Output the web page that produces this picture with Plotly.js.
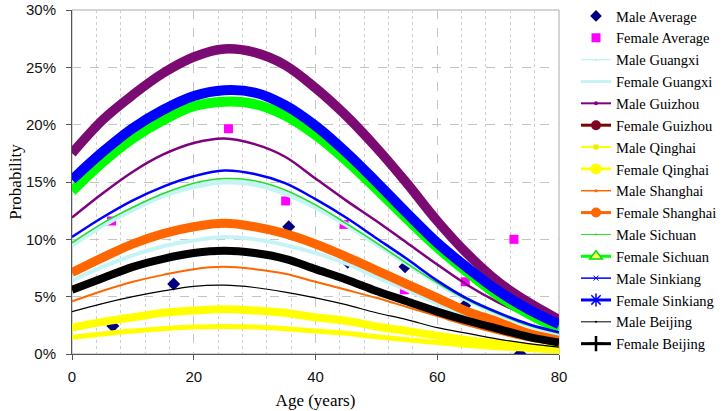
<!DOCTYPE html>
<html>
<head>
<meta charset="utf-8">
<script src="https://cdn.plot.ly/plotly-3.0.1.min.js"></script>
<style>html,body{margin:0;padding:0;background:#fff;}#chart{width:725px;height:411px;}</style>
</head>
<body>
<div id="chart"></div>
<script>
// Ages at which the fitted curves are read (years)
const ages = [0,5,10,15,20,25,30,35,40,45,50,55,60,65,70,75,80];

// Observed averages (age, probability %)
const maleAvgAge = [6.7, 16.7, 35.6, 45.3, 54.7, 64.5, 73.6];
const maleAvgVal = [2.45, 6.1, 11.1, 8.0, 7.6, 4.2, 0.0];
const femaleAvgAge = [6.5, 25.7, 35.1, 44.7, 54.6, 64.6, 72.6];
const femaleAvgVal = [11.6, 19.65, 13.35, 11.3, 5.6, 6.3, 10.0];

// Fitted curves (probability %)
const maleGuangxi   = [6.4, 7.6, 8.6, 9.4, 9.9, 10.2, 10.0, 9.5, 8.8, 7.9, 6.7, 5.6, 4.4, 3.3, 2.4, 1.7, 1.1];
const femaleGuangxi = [9.5, 11.2, 12.6, 13.8, 14.6, 15.0, 14.8, 14.0, 12.8, 11.3, 9.6, 7.9, 6.2, 4.7, 3.5, 2.5, 1.7];
const maleGuizhou   = [11.9, 14.0, 15.9, 17.4, 18.4, 18.8, 18.3, 17.2, 15.3, 13.4, 11.6, 9.7, 7.8, 6.0, 4.5, 3.3, 2.3];
const femaleGuizhou = [17.5, 20.4, 22.6, 24.5, 25.9, 26.6, 26.3, 25.2, 23.2, 20.8, 18.0, 14.9, 11.6, 8.7, 6.3, 4.5, 3.0];
const maleQinghai   = [1.45, 1.75, 2.0, 2.2, 2.35, 2.4, 2.35, 2.2, 2.0, 1.8, 1.5, 1.25, 1.0, 0.75, 0.55, 0.4, 0.25];
const femaleQinghai = [2.3, 2.8, 3.2, 3.6, 3.8, 3.9, 3.8, 3.6, 3.2, 2.9, 2.4, 2.0, 1.6, 1.2, 0.9, 0.6, 0.4];
const maleShanghai  = [4.6, 5.5, 6.3, 6.9, 7.4, 7.6, 7.4, 7.0, 6.3, 5.6, 4.9, 4.1, 3.3, 2.5, 1.8, 1.2, 0.8];
const femaleShanghai= [7.1, 8.4, 9.6, 10.5, 11.1, 11.4, 11.1, 10.5, 9.6, 8.5, 7.3, 6.1, 4.9, 3.7, 2.8, 1.8, 1.2];
const maleSichuan   = [9.7, 11.4, 12.8, 14.0, 14.9, 15.3, 15.1, 14.3, 13.0, 11.4, 9.7, 7.9, 6.2, 4.7, 3.5, 2.5, 1.8];
const femaleSichuan = [14.2, 16.7, 18.8, 20.4, 21.6, 22.0, 21.8, 20.8, 19.1, 16.9, 14.4, 11.8, 9.3, 7.1, 5.1, 3.5, 2.2];
const maleSinkiang  = [10.2, 11.9, 13.4, 14.6, 15.5, 16.0, 15.7, 14.9, 13.5, 11.9, 10.1, 8.3, 6.4, 4.8, 3.6, 2.6, 1.9];
const femaleSinkiang= [15.2, 17.6, 19.7, 21.3, 22.5, 23.0, 22.8, 21.7, 19.9, 17.6, 15.0, 12.3, 9.7, 7.5, 5.5, 3.9, 2.6];
const maleBeijing   = [3.7, 4.4, 5.0, 5.5, 5.9, 6.0, 5.8, 5.4, 4.9, 4.3, 3.6, 3.0, 2.3, 1.8, 1.3, 0.9, 0.6];
const femaleBeijing = [5.6, 6.6, 7.6, 8.3, 8.8, 9.0, 8.8, 8.3, 7.4, 6.5, 5.5, 4.6, 3.7, 2.9, 2.2, 1.5, 1.0];

const seriesNames = ["Male Guangxi","Female Guangxi","Male Guizhou","Female Guizhou","Male Qinghai","Female Qinghai",
  "Male Shanghai","Female Shanghai","Male Sichuan","Female Sichuan","Male Sinkiang","Female Sinkiang","Male Beijing","Female Beijing"];
const seriesValues = [maleGuangxi,femaleGuangxi,maleGuizhou,femaleGuizhou,maleQinghai,femaleQinghai,
  maleShanghai,femaleShanghai,maleSichuan,femaleSichuan,maleSinkiang,femaleSinkiang,maleBeijing,femaleBeijing];

// styles for the curves in the plot
const curveStyle = [
  {color:'#c6f4f6', width:4},
  {color:'#c6f4f6', width:5},
  {color:'#800080', width:2.5},
  {color:'#7b0a72', width:9.5},
  {color:'#ffff00', width:5},
  {color:'#ffff00', width:8},
  {color:'#ff6600', width:2},
  {color:'#ff6600', width:9},
  {color:'#22dd22', width:1.5},
  {color:'#00ff00', width:10},
  {color:'#0000ff', width:2.5},
  {color:'#0000ff', width:10},
  {color:'#000000', width:1.2},
  {color:'#000000', width:8}
];
// styles for the legend samples
const legendStyle = [
  {line:{color:'#c6f4f6', width:1.5}, marker:{size:3, color:'#c6f4f6'}},
  {line:{color:'#c6f4f6', width:3}, marker:{size:3, color:'#c6f4f6'}},
  {line:{color:'#800080', width:2}, marker:{size:4, color:'#800080', symbol:'circle'}},
  {line:{color:'#800000', width:3}, marker:{size:10, color:'#800020', symbol:'circle'}},
  {line:{color:'#ffff00', width:2}, marker:{size:5, color:'#eeee00', symbol:'square'}},
  {line:{color:'#ffff00', width:3}, marker:{size:11, color:'#ffff00', symbol:'circle'}},
  {line:{color:'#ff6600', width:1.5}, marker:{size:3, color:'#ff6600'}},
  {line:{color:'#ff6600', width:3}, marker:{size:10, color:'#ff6600', symbol:'circle'}},
  {line:{color:'#22dd22', width:1}, marker:{size:2, color:'#22dd22'}},
  {line:{color:'#00ff00', width:3}, marker:{size:11, color:'#ffff66', symbol:'triangle-up', line:{color:'#00dd00', width:1.5}}},
  {line:{color:'#0000ff', width:1.5}, marker:{size:5, color:'#0000ff', symbol:'x-thin-open', line:{color:'#0000ff', width:1}}},
  {line:{color:'#0000ff', width:3}, marker:{size:11, color:'#0000ff', symbol:'asterisk-open', line:{color:'#0000ff', width:1.5}}},
  {line:{color:'#000000', width:1}, marker:{size:2, color:'#000000'}},
  {line:{color:'#000000', width:3}, marker:{size:11, color:'#000000', symbol:'cross-thin-open', line:{color:'#000000', width:2.5}}}
];

const traces = [];
traces.push({x: maleAvgAge, y: maleAvgVal, mode:'markers', name:'Male Average', showlegend:false,
  marker:{symbol:'diamond', size:10, color:'#000080'}});
traces.push({x: femaleAvgAge, y: femaleAvgVal, mode:'markers', name:'Female Average', showlegend:false,
  marker:{symbol:'square', size:9, color:'#ff00ff'}});
seriesNames.forEach((n,i)=>{
  traces.push({x: ages, y: seriesValues[i], mode:'lines', name:n, showlegend:false,
    line:{color:curveStyle[i].color, width:curveStyle[i].width, shape:'spline', smoothing:1}});
});
// legend-only entries
traces.push({x:[null], y:[null], mode:'markers', name:'Male Average', marker:{symbol:'diamond', size:9, color:'#000080'}});
traces.push({x:[null], y:[null], mode:'markers', name:'Female Average', marker:{symbol:'square', size:9, color:'#ff00ff'}});
seriesNames.forEach((n,i)=>{
  traces.push({x:[null], y:[null], mode:'lines+markers', name:n, line:legendStyle[i].line, marker:legendStyle[i].marker});
});

const layout = {
  width:725, height:411,
  margin:{l:72, r:166, t:10, b:57},
  paper_bgcolor:'#fff', plot_bgcolor:'#fff',
  showlegend:true,
  legend:{x:576/725, xref:'container', xanchor:'left', y:1, yref:'container', yanchor:'top',
    maxheight:1,
    font:{family:'Liberation Serif, Times New Roman, serif', size:14.5, color:'#000'},
    bgcolor:'rgba(0,0,0,0)', borderwidth:0, tracegroupgap:0},
  xaxis:{range:[0,80], dtick:20, tick0:0, showline:true, linecolor:'#555', linewidth:1,
    ticks:'outside', ticklen:5, tickcolor:'#555', zeroline:false, ticklabelstandoff:4,
    showgrid:true, gridcolor:'#c4c4c4', griddash:'dash', gridwidth:1,
    minor:{dtick:4, showgrid:true, gridcolor:'#cfcfcf', griddash:'dot', gridwidth:1},
    tickfont:{family:'Liberation Sans, Arial, sans-serif', size:15, color:'#111'},
    title:{text:'Age (years)', font:{family:'Liberation Serif, Times New Roman, serif', size:17, color:'#000'}, standoff:10}},
  yaxis:{range:[0,30], dtick:5, tick0:0, ticksuffix:'%', showline:true, linecolor:'#555', linewidth:1,
    ticks:'outside', ticklen:5, tickcolor:'#555', zeroline:false, ticklabelstandoff:7,
    ticklabeloverflow:'allow',
    showgrid:true, gridcolor:'#c4c4c4', griddash:'dash', gridwidth:1,
    tickfont:{family:'Liberation Sans, Arial, sans-serif', size:15, color:'#111'},
    title:{text:'Probability', font:{family:'Liberation Serif, Times New Roman, serif', size:17, color:'#000'}, standoff:0}},
  shapes:[{type:'rect', xref:'paper', yref:'paper', x0:0, x1:1, y0:0, y1:1, line:{color:'#aaaaaa', width:1}, layer:'below'}]
};

Plotly.newPlot('chart', traces, layout, {staticPlot:true, displayModeBar:false});
</script>
</body>
</html>
